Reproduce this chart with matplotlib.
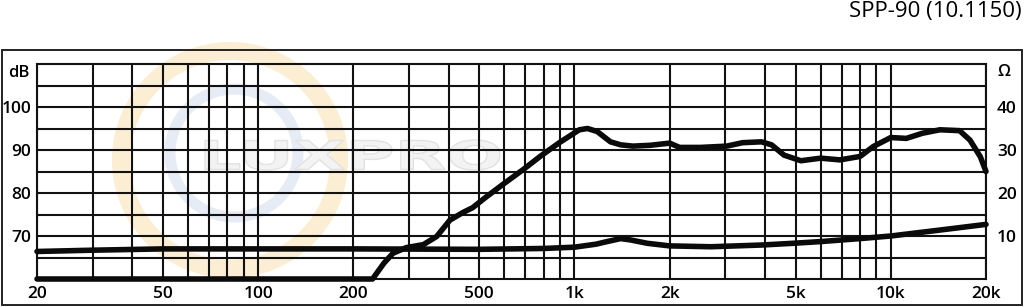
import numpy as np
import matplotlib
matplotlib.use('Agg')
import matplotlib.pyplot as plt
from matplotlib.patches import Ellipse, Rectangle, PathPatch
from matplotlib.textpath import TextPath
from matplotlib.font_manager import FontProperties
from matplotlib.transforms import Affine2D

plt.rcParams['font.family'] = ['Open Sans', 'DejaVu Sans']

# frequency response (dB SPL)
spl_freq = [20, 100, 230, 250, 267, 294, 333, 367, 404, 445, 477, 520, 594, 690,
            782, 900, 1036, 1100, 1180, 1300, 1400, 1530, 1740, 2000, 2150, 2500,
            3030, 3400, 3900, 4200, 4600, 5200, 6000, 6900, 8000, 8800, 10000,
            11200, 12600, 14300, 16500, 17800, 19200, 20000]
spl_db = [60, 60, 60, 63.7, 66.0, 67.3, 68.0, 69.9, 73.7, 75.5, 76.6, 78.8, 82.0, 85.5,
          88.6, 91.8, 94.7, 95.0, 94.3, 91.9, 91.2, 90.9, 91.1, 91.6, 90.6, 90.6,
          90.9, 91.7, 91.9, 91.2, 88.8, 87.5, 88.1, 87.7, 88.5, 90.8, 92.9,
          92.7, 93.9, 94.7, 94.5, 92.3, 88.4, 85.0]

# impedance (ohm)
imp_freq = [20, 30, 50, 100, 200, 500, 800, 1000, 1170, 1250, 1400, 1500, 1700,
            2000, 2700, 3900, 4900, 6000, 8000, 10000, 14000, 20000]
imp_ohm = [6.4, 6.7, 7.0, 7.0, 7.0, 6.9, 7.1, 7.4, 8.1, 8.6, 9.4, 9.1, 8.3,
           7.7, 7.5, 7.9, 8.3, 8.7, 9.4, 10.0, 11.3, 12.7]

x_ticks = [20, 50, 100, 200, 500, 1000, 2000, 5000, 10000, 20000]
x_labels = ['20', '50', '100', '200', '500', '1k', '2k', '5k', '10k', '20k']
x_grid = [20, 30, 40, 50, 60, 70, 80, 90, 100, 200, 300, 400, 500, 600, 700, 800, 900,
          1000, 2000, 3000, 4000, 5000, 6000, 7000, 8000, 9000, 10000, 20000]
db_ticks = [70, 80, 90, 100]
ohm_ticks = [10, 20, 30, 40]
title = 'SPP-90 (10.1150)'

fig = plt.figure(figsize=(10.24, 3.07), dpi=100)

# faint watermark, kept under the grid
fig.patches.append(Ellipse((230 / 1024, 1 - 160 / 307), 218 / 1024, 218 / 307, fill=False,
                           ec='#fbeed3', lw=13, transform=fig.transFigure, zorder=-2))
fig.patches.append(Ellipse((234 / 1024, 1 - 153 / 307), 128 / 1024, 128 / 307, fill=False,
                           ec='#e6ecf6', lw=8, transform=fig.transFigure, zorder=-2))
tp = TextPath((0, 0), 'LUXPRO', size=10, prop=FontProperties(family='DejaVu Sans', weight='bold'))
bb = tp.get_extents()
sx = 295 / bb.width
sy = 30 / bb.height
fig.patches.append(PathPatch(tp, fc='#f3f3f3', ec='#e2e2e2', lw=1,
                             transform=Affine2D().translate(-bb.x0, -bb.y0).scale(sx, sy).translate(205, 307 - 170),
                             zorder=-1))

# outer frame
fig.patches.append(Rectangle((2 / 1024, 2 / 307), 1020 / 1024, 255 / 307, fill=False,
                             ec='#222222', lw=1.4, transform=fig.transFigure, zorder=1))

ax = fig.add_axes([37 / 1024, 28 / 307, 949 / 1024, 215 / 307])
ax.patch.set_alpha(0)
ax.set_xscale('log')
ax.set_xlim(20, 20000)
ax.set_ylim(60, 110)

for f in x_grid:
    ax.axvline(f, color='#111111', lw=1.5, zorder=1)
for d in np.arange(65, 110, 5):
    ax.axhline(d, color='#111111', lw=1.5, zorder=1)
for s in ax.spines.values():
    s.set_linewidth(1.5)
    s.set_color('#111111')

ax.set_xticks(x_ticks)
ax.set_xticklabels(x_labels)
ax.xaxis.set_minor_locator(matplotlib.ticker.NullLocator())
ax.set_yticks(db_ticks)
ax.tick_params(length=0, labelsize=12.5)
ax.tick_params(axis='x', pad=5)
ax.tick_params(axis='y', pad=4)
for lab in ax.get_xticklabels() + ax.get_yticklabels():
    lab.set_fontweight('semibold')

ax.plot(spl_freq, spl_db, color='#0a0a0a', lw=4, solid_capstyle='round',
        solid_joinstyle='round', clip_on=False, zorder=3)

ax2 = ax.twinx()
ax2.set_ylim(0, 50)
ax2.set_yticks(ohm_ticks)
ax2.tick_params(length=0, labelsize=12.5, pad=8)
for lab in ax2.get_yticklabels():
    lab.set_fontweight('semibold')
for s in ax2.spines.values():
    s.set_visible(False)
ax2.plot(imp_freq, imp_ohm, color='#0a0a0a', lw=4, solid_capstyle='round',
         solid_joinstyle='round', clip_on=False, zorder=3)

fig.text(8 / 1024, 1 - 73 / 307, 'dB', fontsize=12, fontweight='semibold', va='center', ha='left')
fig.text(1004 / 1024, 1 - 72 / 307, 'Ω', fontsize=12, fontweight='semibold', va='center', ha='center')
fig.text(1022 / 1024, 1 - 12 / 307, title, fontsize=16, va='center', ha='right')

fig.savefig('out.png', dpi=100)
